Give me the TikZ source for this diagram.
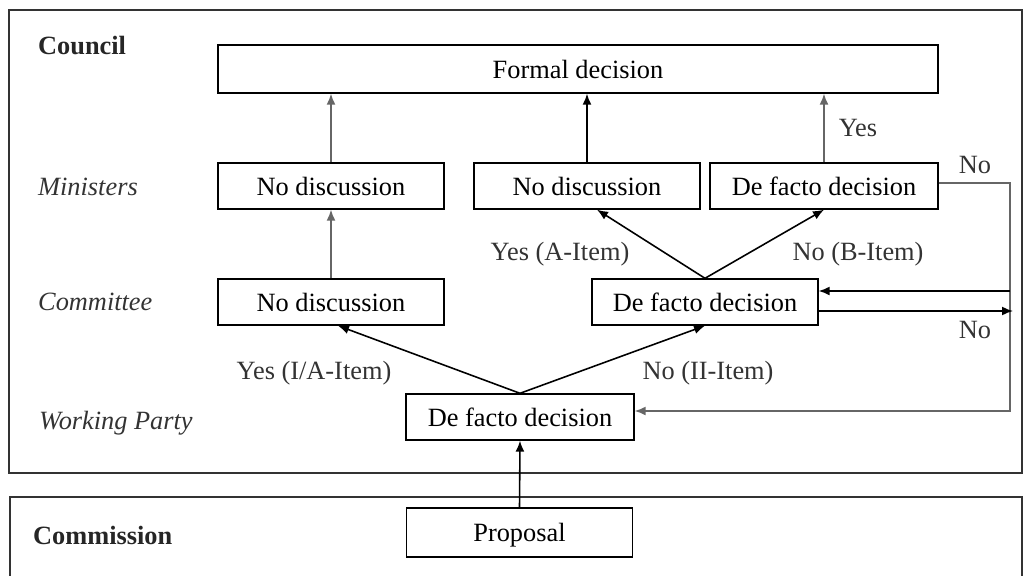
\documentclass[tikz,border=0pt]{standalone}
\usepackage{fontspec}
\setmainfont{Liberation Serif}
\usetikzlibrary{arrows.meta}

\tikzset{
  box/.style={draw, line width=0.8pt, minimum width=4.52cm, minimum height=0.92cm, inner sep=0pt,
    text height=10.3pt, text depth=0pt},
  frame/.style={draw=black!80, line width=1pt},
  tag/.style={text=black!80},
  level/.style={anchor=west, text=black!80, font=\fontsize{15}{17}\selectfont\itshape},
  body/.style={anchor=west, text=black!85, font=\fontsize{15}{17}\selectfont\bfseries},
  up/.style={->, draw=black!60, line width=0.9pt},
  flow/.style={->, line width=0.9pt}
}

\begin{document}
\begin{tikzpicture}[x=0.02cm, y=-0.02cm, font=\fontsize{15}{17}\selectfont,
    >={Latex[length=2.2mm,width=1.8mm]}]
    \useasboundingbox (0,0) rectangle (1024,575);

    % frames
    \draw[frame] (9,10) rectangle (1022,473);
    \draw[frame] (10,580) -- (10,497) -- (1022,497) -- (1022,580);

    % levels
    \node[body] (council) at (32,46) {Council};
    \node[level] (ministers) at (32,187) {Ministers};
    \node[level] (committee) at (32,302) {Committee};
    \node[level] (party) at (33,423) {Working Party};
    \node[body] (commission) at (27,535) {Commission};

    % boxes
    \node[box, minimum width=14.4cm, minimum height=0.96cm] (formal) at (578,69) {Formal decision};
    \node[box] (nodisc1) at (331,186) {No discussion};
    \node[box] (nodisc2) at (587,186) {No discussion};
    \node[box, minimum width=4.56cm] (defacto1) at (824,186) {De facto decision};
    \node[box] (nodisc3) at (331,302) {No discussion};
    \node[box] (defacto2) at (705,302) {De facto decision};
    \node[box, minimum width=4.56cm] (defacto3) at (520,417) {De facto decision};
    \node[box, minimum height=0.98cm] (proposal) at (519.5,532.5) {Proposal};

    % loop points
    \coordinate (rtop) at (1010,183);
    \coordinate (rbot) at (1010,411);
    \coordinate (rin) at (1010,291);
    \coordinate (rout) at (1013,311);

    % arrows
    \draw[up] (nodisc1.north) -- (nodisc1.north |- formal.south);
    \draw[flow] (nodisc2.north) -- (nodisc2.north |- formal.south);
    \draw[up] (defacto1.north) -- (defacto1.north |- formal.south);
    \draw[up] (nodisc3.north) -- (nodisc1.south);
    \draw[flow] (defacto2.north) -- ([xshift=0.2cm]nodisc2.south);
    \draw[flow] (defacto2.north) -- (defacto1.south);
    \draw[flow] (defacto3.north) -- ([xshift=0.14cm]nodisc3.south);
    \draw[flow] (defacto3.north) -- (defacto2.south);
    \draw[flow] (proposal.north) -- (defacto3.south);
    \draw[up] (defacto1.east |- rtop) -- (rtop) -- (rbot) -- (defacto3.east |- rbot);
    \draw[flow] (rin) -- (defacto2.east |- rin);
    \draw[flow] (defacto2.east |- rout) -- (rout);

    % labels
    \node[tag] (yes) at (858,128) {Yes};
    \node[tag] (no1) at (975,165) {No};
    \node[tag] (itemA) at (560,254) {Yes (A-Item)};
    \node[tag] (itemB) at (858,254) {No (B-Item)};
    \node[tag] (no2) at (975,330) {No};
    \node[tag] (itemIA) at (314,373) {Yes (I/A-Item)};
    \node[tag] (itemII) at (708,373) {No (II-Item)};
\end{tikzpicture}
\end{document}
